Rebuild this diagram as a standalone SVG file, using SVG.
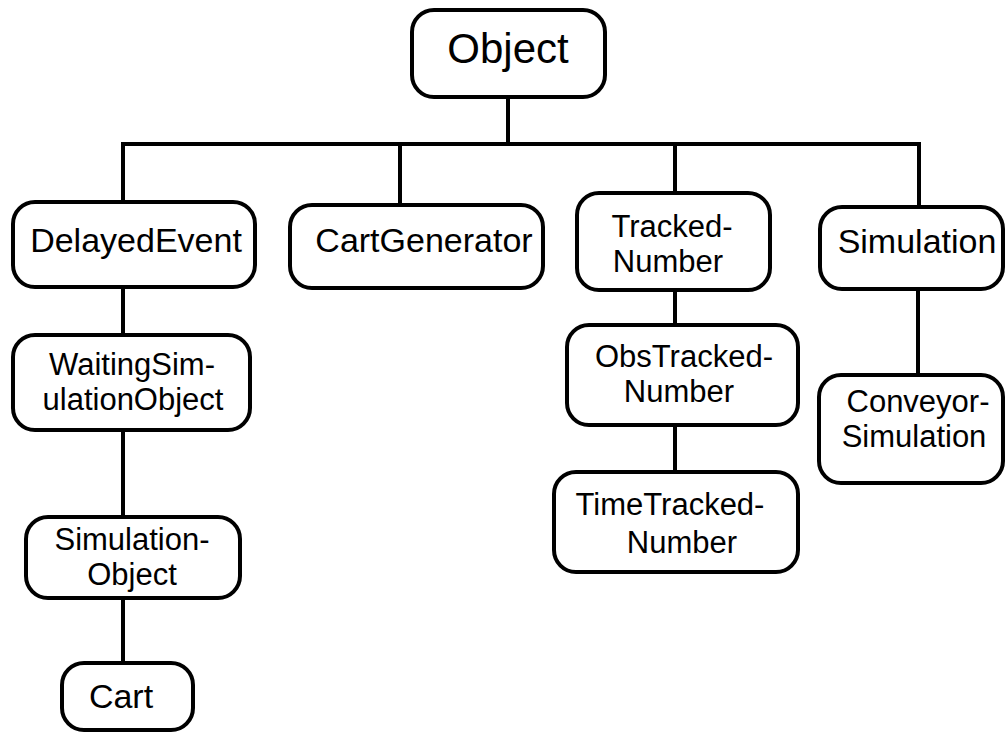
<svg xmlns="http://www.w3.org/2000/svg" width="1006" height="733" viewBox="0 0 1006 733">
<style>
.box{fill:#fff;stroke:#000;stroke-width:4}
.lbl{font-family:"Liberation Sans",Arial,sans-serif;font-size:34px;fill:#000;text-anchor:middle}
.two{font-size:31px}
.con{stroke:#000;stroke-width:4;fill:none}
</style>
<rect width="1006" height="733" fill="#fff"/>
<g id="connectors">
<line class="con" x1="508" y1="97" x2="508" y2="144"/>
<line class="con" x1="121" y1="144" x2="921" y2="144"/>
<line class="con" x1="123" y1="144" x2="123" y2="202"/>
<line class="con" x1="400" y1="144" x2="400" y2="205"/>
<line class="con" x1="675" y1="144" x2="675" y2="193"/>
<line class="con" x1="919" y1="144" x2="919" y2="207"/>
<line class="con" x1="123" y1="287" x2="123" y2="335"/>
<line class="con" x1="123" y1="430" x2="123" y2="517"/>
<line class="con" x1="123" y1="598" x2="123" y2="663"/>
<line class="con" x1="675" y1="290" x2="675" y2="325"/>
<line class="con" x1="675" y1="425" x2="675" y2="472"/>
<line class="con" x1="918" y1="289" x2="918" y2="375"/>
</g>
<g id="object">
<rect class="box" x="412" y="10" width="193" height="87" rx="22"/>
<text class="lbl" x="508" y="63" style="font-size:42px">Object</text>
</g>
<g id="delayedevent">
<rect class="box" x="13" y="202" width="242" height="85" rx="22"/>
<text class="lbl" x="136" y="252">DelayedEvent</text>
</g>
<g id="cartgenerator">
<rect class="box" x="290" y="205" width="253" height="83" rx="22"/>
<text class="lbl" x="424" y="252">CartGenerator</text>
</g>
<g id="trackednumber">
<rect class="box" x="577" y="193" width="193" height="97" rx="22"/>
<text class="lbl two" x="672" y="237">Tracked-</text>
<text class="lbl two" x="668" y="272">Number</text>
</g>
<g id="simulation">
<rect class="box" x="820" y="207" width="183" height="82" rx="22"/>
<text class="lbl" x="917" y="253">Simulation</text>
</g>
<g id="waitingsimulationobject">
<rect class="box" x="13" y="335" width="237" height="95" rx="22"/>
<text class="lbl two" x="132" y="375">WaitingSim-</text>
<text class="lbl two" x="133" y="410">ulationObject</text>
</g>
<g id="simulationobject">
<rect class="box" x="26" y="517" width="214" height="81" rx="22"/>
<text class="lbl two" x="132" y="550">Simulation-</text>
<text class="lbl two" x="132" y="585">Object</text>
</g>
<g id="cart">
<rect class="box" x="62" y="663" width="131" height="67" rx="22"/>
<text class="lbl" x="121" y="708">Cart</text>
</g>
<g id="obstrackednumber">
<rect class="box" x="567" y="325" width="231" height="100" rx="22"/>
<text class="lbl two" x="684" y="367">ObsTracked-</text>
<text class="lbl two" x="679" y="402">Number</text>
</g>
<g id="timetrackednumber">
<rect class="box" x="554" y="472" width="244" height="100" rx="22"/>
<text class="lbl two" x="670" y="515">TimeTracked-</text>
<text class="lbl two" x="682" y="553">Number</text>
</g>
<g id="conveyorsimulation">
<rect class="box" x="819" y="375" width="184" height="108" rx="22"/>
<text class="lbl two" x="918" y="412">Conveyor-</text>
<text class="lbl two" x="914" y="447">Simulation</text>
</g>
</svg>
